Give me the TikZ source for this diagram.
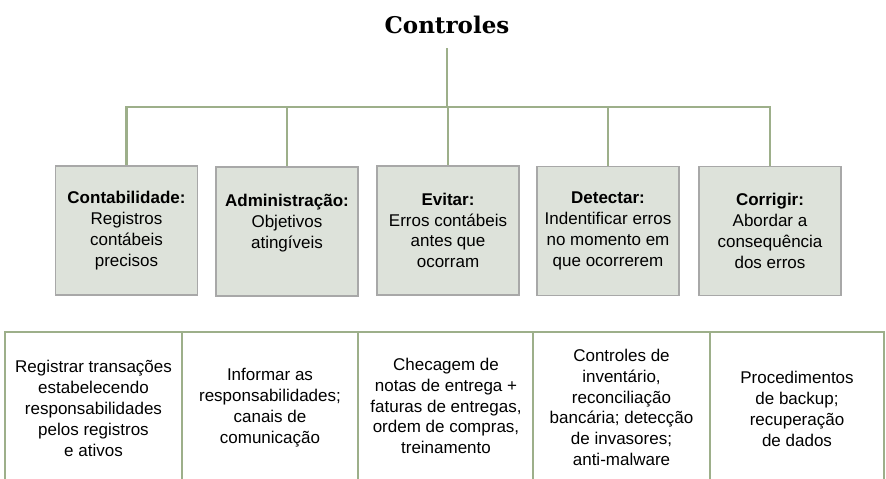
\documentclass[tikz,border=0pt]{standalone}
\usepackage{fontspec}
\setmainfont{Liberation Sans}
\newfontfamily\titlefont{DejaVu Serif}
\definecolor{lineg}{HTML}{9DAF8A}
\definecolor{boxfill}{HTML}{DDE2DA}
\definecolor{boxedge}{HTML}{A8A8A8}
\begin{document}
\begin{tikzpicture}[x=1pt,y=-1pt,
  conn/.style={draw=lineg,line width=2.6pt},
  catbox/.style={rectangle,draw=boxedge,fill=boxfill,line width=1.5pt,
    minimum width=142pt,minimum height=129pt,inner sep=0pt,
    align=center,font=\fontsize{17}{20.8}\selectfont},
  celltext/.style={align=center,inner sep=0pt,font=\fontsize{17}{20.8}\selectfont}]
\useasboundingbox (0,0) rectangle (886,479);
\node[font=\titlefont\bfseries\fontsize{23}{26}\selectfont] (title) at (447,25) {Controles};
\coordinate (ttop) at (447,48);
\coordinate (bar) at (447,107);

\node[catbox] (b1) at (126.5,230.5) {\textbf{Contabilidade:}\\Registros\\contábeis\\precisos};
\node[catbox] (b2) at (287,231.5) {\textbf{Administração:}\\Objetivos\\atingíveis\\\mbox{}};
\node[catbox] (b3) at (448,230.5) {\textbf{Evitar:}\\Erros contábeis\\antes que\\ocorram};
\node[catbox] (b4) at (608,231) {\textbf{Detectar:}\\Indentificar erros\\no momento em\\que ocorrerem};
\node[catbox] (b5) at (770,231) {\textbf{Corrigir:}\\Abordar a\\consequência\\dos erros};

\draw[conn] (ttop) -- (bar);
\draw[conn,line cap=rect] (b1.north |- bar) -- (b5.north |- bar);
\foreach \b in {b1,b2,b3,b4,b5} \draw[conn] (\b.north |- bar) -- (\b.north);

% table
\coordinate (tl) at (5,332);
\coordinate (tr) at (884,332);
\draw[conn,line cap=rect] (tl) -- (tr);
\foreach \x in {5,182,358,533,710,884} \draw[conn] (\x,332) -- (\x,482);

\node[celltext] (c1) at (93.5,408.5) {Registrar transações\\estabelecendo\\responsabilidades\\pelos registros\\e ativos};
\node[celltext] (c2) at (270,407.5) {Informar as\\responsabilidades;\\canais de\\comunicação};
\node[celltext] (c3) at (446,406) {Checagem de\\notas de entrega +\\faturas de entregas,\\ordem de compras,\\treinamento};
\node[celltext] (c4) at (621.5,407.5) {Controles de\\inventário,\\reconciliação\\bancária; detecção\\de invasores;\\anti-malware};
\node[celltext] (c5) at (797,409) {Procedimentos\\de backup;\\recuperação\\de dados};
\end{tikzpicture}
\end{document}
